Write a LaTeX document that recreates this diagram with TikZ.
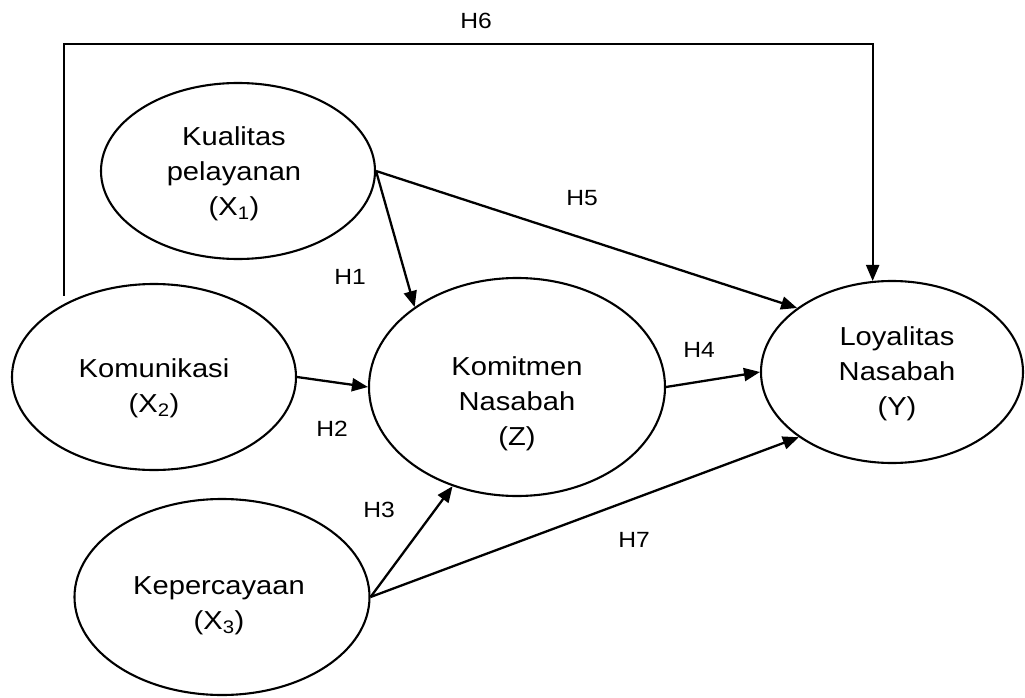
\documentclass[tikz,border=0pt]{standalone}
\usepackage{fontspec}
\setmainfont{Liberation Sans}[FakeStretch=1.12]
\usetikzlibrary{positioning,arrows.meta,shapes.geometric}

\begin{document}
\begin{tikzpicture}[x=1pt,y=-1pt,
    konstruk/.style={draw,ellipse,line width=2.1pt,inner sep=0pt},
    teks/.style={align=center,font=\fontsize{26}{35}\selectfont},
    panah/.style={-{Triangle[length=16pt,width=13pt]},line width=2.3pt},
    hipo/.style={font=\fontsize{22}{22}\selectfont}]
    \useasboundingbox (0,0) rectangle (1025,698);
    % konstruk
    \node[konstruk,minimum width=274pt,minimum height=176pt] (x1) at (238,171) {};
    \node[konstruk,minimum width=284pt,minimum height=186pt] (x2) at (154,377) {};
    \node[konstruk,minimum width=295pt,minimum height=196pt] (x3) at (222,597) {};
    \node[konstruk,minimum width=296pt,minimum height=218pt] (z) at (517,387) {};
    \node[konstruk,minimum width=262pt,minimum height=182pt] (y) at (892,372) {};
    \node[teks] (x1-t) at ([shift={(-4pt,-3pt)}]x1.center) {Kualitas\\pelayanan\\(X\textsubscript{1})};
    \node[teks] (x2-t) at ([yshift=-11pt]x2.center) {Komunikasi\\(X\textsubscript{2})};
    \node[teks] (x3-t) at ([shift={(-3pt,-9pt)}]x3.center) {Kepercayaan\\(X\textsubscript{3})};
    \node[teks] (z-t) at ([yshift=-17pt]z.center) {Komitmen\\Nasabah\\(Z)};
    \node[teks] (y-t) at ([shift={(5pt,-2pt)}]y.center) {Loyalitas\\Nasabah\\(Y)};
    % hipotesis
    \foreach \n/\x/\y in {1/350/277,2/332/429,3/379/510,4/699/350,5/582/198,6/476/21,7/634/540}{
      \node[hipo] (h\n) at (\x,\y) {H\n};
    }
    \coordinate (atas) at (476,44);
    \draw[panah] (x1.east) -- (z.142);
    \draw[panah] (x1.east) -- (y.146);
    \draw[panah] (x2.east) -- (z.west);
    \draw[panah] (x3.east) -- (z.237);
    \draw[panah] (z.east) -- (y.west);
    \draw[panah,shorten <=8pt] (x2.141) |- (atas) -| (y.102);
    \draw[panah] (x3.east) -- (y.215);
  \end{tikzpicture}
\end{document}
